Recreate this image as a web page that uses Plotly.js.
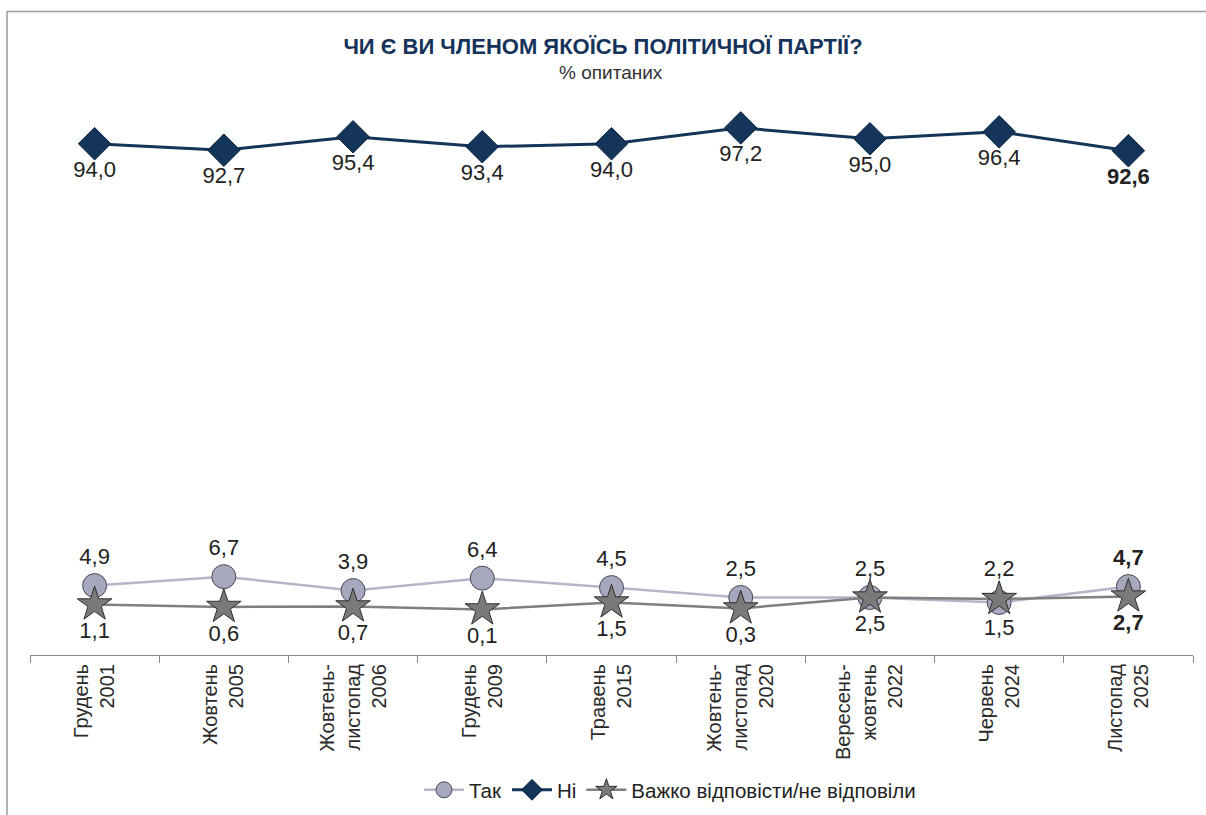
<!DOCTYPE html>
<html>
<head>
<meta charset="utf-8">
<script src="https://cdn.plot.ly/plotly-3.0.1.min.js"></script>
<style>
  html, body { margin: 0; padding: 0; background: #ffffff; }
  #chart { width: 1206px; height: 815px; }
</style>
</head>
<body>
<div id="chart"></div>
<script>
// ---- data ----
const categories = [
  "Грудень<br>2001",
  "Жовтень<br>2005",
  "Жовтень-<br>листопад<br>2006",
  "Грудень<br>2009",
  "Травень<br>2015",
  "Жовтень-<br>листопад<br>2020",
  "Вересень-<br>жовтень<br>2022",
  "Червень<br>2024",
  "Листопад<br>2025"
];
const yesValues  = [4.9, 6.7, 3.9, 6.4, 4.5, 2.5, 2.5, 1.5, 4.7];
const noValues   = [94.0, 92.7, 95.4, 93.4, 94.0, 97.2, 95.0, 96.4, 92.6];
const hardValues = [1.1, 0.6, 0.7, 0.1, 1.5, 0.3, 2.5, 2.2, 2.7];
const seriesNames = ["Так", "Ні", "Важко відповісти/не відповіли"];

// ---- helpers ----
const fmt = v => v.toFixed(1).replace('.', ',');
const labels = vals => vals.map((v, i) => i === vals.length - 1 ? '<b>' + fmt(v) + '</b>' : fmt(v));

const labelFont = { family: '"Liberation Sans", Arial, sans-serif', size: 22, color: '#222222' };

const yesPos  = yesValues.map((v, i) => (yesValues[i] < hardValues[i] ? 'bottom center' : 'top center'));
const hardPos = hardValues.map((v, i) => (hardValues[i] > yesValues[i] ? 'top center' : 'bottom center'));

const traces = [
  {
    x: categories, y: yesValues, name: seriesNames[0],
    type: 'scatter', mode: 'lines+markers+text',
    line: { color: '#b3b5c9', width: 2.5 },
    marker: { symbol: 'circle', size: 24, color: '#a6a8bd', line: { color: '#4a4a55', width: 1 } },
    text: labels(yesValues), textposition: yesPos, textfont: labelFont,
    hoverinfo: 'skip', cliponaxis: false
  },
  {
    x: categories, y: noValues, name: seriesNames[1],
    type: 'scatter', mode: 'lines+markers+text',
    line: { color: '#14345a', width: 3 },
    marker: { symbol: 'diamond', size: 25, color: '#14345a', line: { color: '#0c2440', width: 1 } },
    text: labels(noValues), textposition: 'bottom center', textfont: labelFont,
    hoverinfo: 'skip', cliponaxis: false
  },
  {
    x: categories, y: hardValues, name: seriesNames[2],
    type: 'scatter', mode: 'lines+markers+text',
    line: { color: '#7f7f7f', width: 2.5 },
    marker: { symbol: 'star', size: 26, color: '#7a7a7a', line: { color: '#2e2e2e', width: 1 } },
    text: labels(hardValues), textposition: hardPos, textfont: labelFont,
    hoverinfo: 'skip', cliponaxis: false
  }
];

const plotLeft = 30, plotRight = 1193, plotTop = 114, plotBottom = 655;
const pw = plotRight - plotLeft, ph = plotBottom - plotTop;
const px = x => (x - plotLeft) / pw;
const py = y => (plotBottom - y) / ph;

const layout = {
  width: 1206, height: 815,
  margin: { l: plotLeft, r: 1206 - plotRight, t: plotTop, b: 815 - plotBottom, pad: 0 },
  paper_bgcolor: '#ffffff', plot_bgcolor: '#ffffff',
  separators: ', ',
  showlegend: true,
  title: {
    text: '<b>ЧИ Є ВИ ЧЛЕНОМ ЯКОЇСЬ ПОЛІТИЧНОЇ ПАРТІЇ?</b>',
    font: { family: '"Liberation Sans", Arial, sans-serif', size: 22, color: '#15335a' },
    x: 0.5, xref: 'container', xanchor: 'center',
    y: 1 - 46 / 815, yref: 'container', yanchor: 'middle'
  },
  annotations: [
    {
      text: '% опитаних', showarrow: false,
      xref: 'paper', yref: 'paper', x: px(611), y: py(73),
      xanchor: 'center', yanchor: 'middle',
      font: { family: '"Liberation Sans", Arial, sans-serif', size: 19, color: '#333333' }
    }
  ],
  xaxis: {
    type: 'category',
    range: [-0.5, 8.5],
    automargin: false,
    showline: true, linecolor: '#8a8a8a', linewidth: 1,
    ticks: 'outside', tickson: 'boundaries', ticklen: 7, tickcolor: '#8a8a8a', tickwidth: 1,
    tickangle: -90,
    tickfont: { family: '"Liberation Sans", Arial, sans-serif', size: 20, color: '#2a2a2a' },
    showgrid: false, zeroline: false, fixedrange: true
  },
  yaxis: {
    range: [-9.1, 100],
    automargin: false,
    visible: false, showgrid: false, zeroline: false, fixedrange: true
  },
  legend: {
    orientation: 'h',
    xref: 'container', x: 670 / 1206, xanchor: 'center',
    yref: 'container', y: 1 - 790 / 815, yanchor: 'middle',
    font: { family: '"Liberation Sans", Arial, sans-serif', size: 20.5, color: '#222222' },
    itemwidth: 40,
    bgcolor: 'rgba(0,0,0,0)'
  },
  shapes: [
    { type: 'line', xref: 'paper', yref: 'paper', x0: px(7), x1: px(1206), y0: py(11.5), y1: py(11.5), line: { color: '#9a9a9a', width: 1.5 } },
    { type: 'line', xref: 'paper', yref: 'paper', x0: px(7), x1: px(7), y0: py(11.5), y1: py(815), line: { color: '#9a9a9a', width: 1.5 } }
  ]
};

Plotly.newPlot('chart', traces, layout, { displayModeBar: false, staticPlot: true });
</script>
</body>
</html>
